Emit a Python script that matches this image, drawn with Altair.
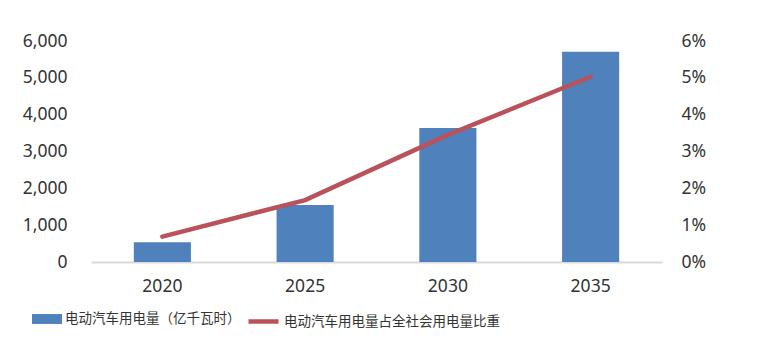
import altair as alt
import pandas as pd

years = ["2020", "2025", "2030", "2035"]
ev_power = [535, 1550, 3640, 5710]          # 亿千瓦时
ev_share = [0.0069, 0.0168, 0.0345, 0.0503]  # 占全社会用电量比重

bar_name = "电动汽车用电量（亿千瓦时）"
line_name = "电动汽车用电量占全社会用电量比重"

df = pd.DataFrame({
    "year": years,
    "power": ev_power,
    "share": ev_share,
    "s1": [bar_name] * len(years),
    "s2": [line_name] * len(years),
})

FONT = "Noto Sans"
CJK = "Noto Sans CJK SC"
LINE_COLOR = "#B9525A"

x = alt.X("year:N", sort=years, title=None,
          scale=alt.Scale(paddingInner=0.6, paddingOuter=0.3),
          axis=alt.Axis(labelAngle=0, ticks=False, domainColor="#D9D9D9",
                        domainWidth=2, labelPadding=15, labelFont=FONT,
                        labelFontSize=17.5, labelColor="#333333"))

bars = alt.Chart(df).mark_bar(color="#4F81BD").encode(
    x=x,
    y=alt.Y("power:Q", title=None,
            scale=alt.Scale(domain=[0, 6000], nice=False),
            axis=alt.Axis(values=[0, 1000, 2000, 3000, 4000, 5000, 6000],
                          format=",.0f", domain=False, ticks=False, grid=False,
                          labelPadding=24, labelFont=FONT, labelFontSize=17.5,
                          labelColor="#333333")),
    fill=alt.Fill("s1:N", scale=alt.Scale(range=["#4F81BD"]),
                  legend=alt.Legend(orient="none", legendX=-59, legendY=263,
                                    title=None, direction="horizontal",
                                    symbolType="M-1,-0.33H1V0.33H-1Z",
                                    symbolSize=900, symbolStrokeWidth=0,
                                    symbolOpacity=1,
                                    labelFont=CJK, labelFontSize=13.5,
                                    labelColor="#333333", labelOffset=3,
                                    labelLimit=400, padding=0)),
)

line = alt.Chart(df).mark_line(strokeWidth=4.5, strokeCap="round",
                               color=LINE_COLOR).encode(
    x=x,
    y=alt.Y("share:Q", title=None,
            scale=alt.Scale(domain=[0, 0.06], nice=False),
            axis=alt.Axis(orient="right",
                          values=[0, 0.01, 0.02, 0.03, 0.04, 0.05, 0.06],
                          format=".0%", domain=False, ticks=False, grid=False,
                          labelPadding=19, labelFont=FONT, labelFontSize=17.5,
                          labelColor="#333333")),
    stroke=alt.Stroke("s2:N", scale=alt.Scale(range=[LINE_COLOR]),
                      legend=alt.Legend(orient="none", legendX=155, legendY=263,
                                        title=None, direction="horizontal",
                                        symbolType="stroke", symbolSize=900,
                                        symbolStrokeWidth=4.5,
                                        labelFont=CJK, labelFontSize=13.5,
                                        labelColor="#333333", labelOffset=3,
                                        labelLimit=400, padding=0)),
)

chart = alt.layer(bars, line).resolve_scale(
    y="independent", fill="independent", stroke="independent"
).properties(
    width=571, height=221,
    autosize=alt.AutoSizeParams(type="none"),
    padding={"left": 91, "top": 41, "right": 102, "bottom": 92},
    background="white",
).configure_view(stroke=None)

chart.save("out.html", embed_options={"renderer": "svg", "actions": False})
